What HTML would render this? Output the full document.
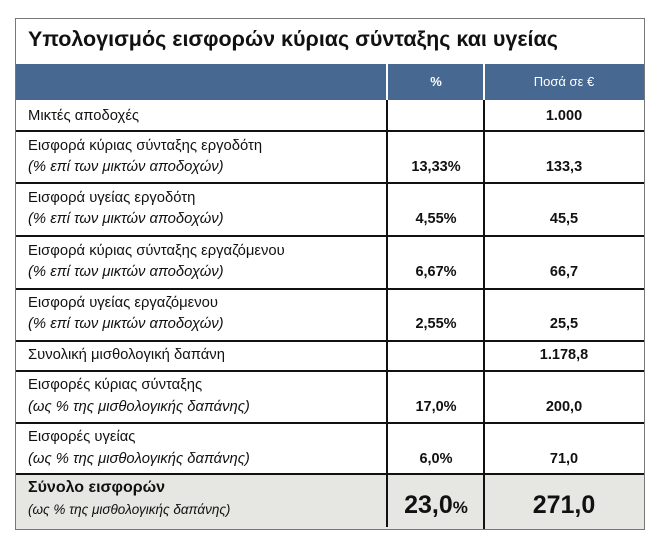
<!DOCTYPE html>
<html><head><meta charset="utf-8"><style>
body{margin:0;width:660px;height:550px;background:#fff;position:relative;font-family:"Liberation Sans","DejaVu Sans",sans-serif;color:#111;overflow:hidden}
.a{position:absolute}
.box{left:15px;top:18px;width:630px;height:512px;border:1.5px solid #777;box-sizing:border-box;z-index:5}
.hl{position:absolute;left:16px;width:628px;height:1.5px;background:#111}
.vl{position:absolute;width:1.5px;background:#111}
.t{position:absolute;left:28px;font-size:14.8px;white-space:nowrap}
.i{font-style:italic}
.c1{position:absolute;left:388px;width:96px;text-align:center;font-size:14.5px;font-weight:bold}
.c2{position:absolute;left:485px;width:158px;text-align:center;font-size:14.5px;font-weight:bold}
</style></head><body>
<div class="a box"></div>
<div class="a" style="left:28px;top:27px;font-size:21.5px;font-weight:bold;white-space:nowrap">Υπολογισμός εισφορών κύριας σύνταξης και υγείας</div>
<div class="a" style="left:16px;top:64px;width:628px;height:36px;background:#466891"></div>
<div class="a" style="left:16px;top:473px;width:628px;height:56px;background:#e6e6e2"></div>
<div class="c1" style="top:74px;color:#fff;font-size:13px">%</div>
<div class="c2" style="top:74px;color:#fff;font-size:13px;font-weight:normal">Ποσά σε €</div>
<div class="vl" style="left:386px;top:64px;height:36px;background:#fff"></div>
<div class="vl" style="left:483px;top:64px;height:36px;background:#fff"></div>
<div class="vl" style="left:386px;top:100px;height:427px"></div>
<div class="vl" style="left:483px;top:100px;height:429px"></div>
<div class="hl" style="top:130px"></div>
<div class="hl" style="top:182px"></div>
<div class="hl" style="top:235px"></div>
<div class="hl" style="top:288px"></div>
<div class="hl" style="top:340px"></div>
<div class="hl" style="top:370px"></div>
<div class="hl" style="top:422px"></div>
<div class="hl" style="top:473px"></div>

<div class="t" style="top:108px">Μικτές αποδοχές</div>
<div class="c2" style="top:108px">1.000</div>

<div class="t" style="top:138px">Εισφορά κύριας σύνταξης εργοδότη</div>
<div class="t i" style="top:159px">(% επί των μικτών αποδοχών)</div>
<div class="c1" style="top:159px">13,33%</div>
<div class="c2" style="top:159px">133,3</div>

<div class="t" style="top:190px">Εισφορά υγείας εργοδότη</div>
<div class="t i" style="top:211px">(% επί των μικτών αποδοχών)</div>
<div class="c1" style="top:211px">4,55%</div>
<div class="c2" style="top:211px">45,5</div>

<div class="t" style="top:243px">Εισφορά κύριας σύνταξης εργαζόμενου</div>
<div class="t i" style="top:264px">(% επί των μικτών αποδοχών)</div>
<div class="c1" style="top:264px">6,67%</div>
<div class="c2" style="top:264px">66,7</div>

<div class="t" style="top:295px">Εισφορά υγείας εργαζόμενου</div>
<div class="t i" style="top:316px">(% επί των μικτών αποδοχών)</div>
<div class="c1" style="top:316px">2,55%</div>
<div class="c2" style="top:316px">25,5</div>

<div class="t" style="top:347px">Συνολική μισθολογική δαπάνη</div>
<div class="c2" style="top:347px">1.178,8</div>

<div class="t" style="top:377px">Εισφορές κύριας σύνταξης</div>
<div class="t i" style="top:399px">(ως % της μισθολογικής δαπάνης)</div>
<div class="c1" style="top:399px">17,0%</div>
<div class="c2" style="top:399px">200,0</div>

<div class="t" style="top:429px">Εισφορές υγείας</div>
<div class="t i" style="top:451px">(ως % της μισθολογικής δαπάνης)</div>
<div class="c1" style="top:451px">6,0%</div>
<div class="c2" style="top:451px">71,0</div>

<div class="t" style="top:479px;font-weight:bold;font-size:16px">Σύνολο εισφορών</div>
<div class="t i" style="top:502px;font-size:13.5px">(ως % της μισθολογικής δαπάνης)</div>
<div class="c1" style="top:491px;font-size:25px">23,0<span style="font-size:17px">%</span></div>
<div class="c2" style="top:491px;font-size:25px">271,0</div>
</body></html>
